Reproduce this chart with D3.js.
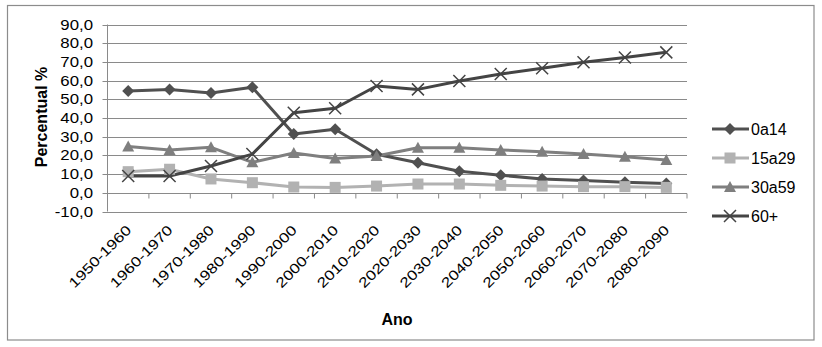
<!DOCTYPE html>
<html lang="pt">
<head>
<meta charset="UTF-8">
<title>Percentual por faixa etária</title>
<script src="https://d3js.org/d3.v7.min.js"></script>
<style>
  body { margin: 0; background: #fff; }
  text { font-family: "Liberation Sans", Arial, sans-serif; fill: #000; }
</style>
</head>
<body>
<svg width="822" height="347"></svg>
<script>
// data
const categories = ["1950-1960", "1960-1970", "1970-1980", "1980-1990", "1990-2000", "2000-2010", "2010-2020",
  "2020-2030", "2030-2040", "2040-2050", "2050-2060", "2060-2070", "2070-2080", "2080-2090"];
const seriesNames = ["0a14", "15a29", "30a59", "60+"];
const v0a14  = [54.4, 55.3, 53.4, 56.4, 31.4, 34.0, 20.6, 16.1, 11.5, 9.4, 7.4, 6.6, 5.7, 5.0];
const v15a29 = [11.3, 12.6, 7.4, 5.4, 3.1, 2.9, 3.6, 4.7, 4.7, 4.0, 3.6, 3.3, 3.3, 2.9];
const v30a59 = [24.7, 22.9, 24.3, 16.3, 21.3, 18.4, 19.7, 24.1, 24.1, 22.9, 22.0, 20.7, 19.3, 17.5];
const v60    = [9.0, 9.0, 14.3, 20.7, 42.8, 45.2, 57.1, 55.3, 59.8, 63.5, 66.6, 69.8, 72.4, 75.1];
const yTicks = [-10, 0, 10, 20, 30, 40, 50, 60, 70, 80, 90];

const series = [
  { name: seriesNames[0], values: v0a14,  color: "#505050", marker: "diamond" },
  { name: seriesNames[1], values: v15a29, color: "#b2b2b2", marker: "square" },
  { name: seriesNames[2], values: v30a59, color: "#7f7f7f", marker: "triangle" },
  { name: seriesNames[3], values: v60,    color: "#444444", marker: "cross" }
];

const svg = d3.select("svg");
const plotLeft = 107.5, plotRight = 687, plotTop = 24.5, plotBottom = 211.5;

// outer frame
svg.append("rect")
  .attr("x", 7.5).attr("y", 5.5).attr("width", 806.5).attr("height", 334.5)
  .attr("fill", "none").attr("stroke", "#8c8c8c").attr("stroke-width", 1.2);

const x = d3.scaleBand().domain(categories).range([plotLeft, plotRight]);
const y = d3.scaleLinear().domain([-10, 90]).range([plotBottom, plotTop]);

// gridlines
svg.append("g").selectAll("line").data(yTicks).join("line")
  .attr("x1", plotLeft - 5).attr("x2", plotRight)
  .attr("y1", d => Math.round(y(d)) + 0.5).attr("y2", d => Math.round(y(d)) + 0.5)
  .attr("stroke", "#8a8a8a").attr("stroke-width", 1);

// y axis line
svg.append("line")
  .attr("x1", plotLeft).attr("x2", plotLeft).attr("y1", y(90)).attr("y2", y(-10))
  .attr("stroke", "#8a8a8a");

// y tick labels (the original glyphs are a bit wider than Arial)
svg.append("g").selectAll("text").data(yTicks).join("text")
  .attr("transform", d => `translate(93,${y(d)}) scale(1.2,1)`)
  .attr("dy", "0.36em")
  .attr("text-anchor", "end")
  .style("font-size", "14px")
  .text(d => d3.format(".1f")(d).replace(".", ",").replace("−", "-"));

// category ticks on the zero line
const y0 = Math.round(y(0)) + 0.5;
svg.append("g").selectAll("line").data(categories).join("line")
  .attr("x1", d => x(d) + x.bandwidth())
  .attr("x2", d => x(d) + x.bandwidth())
  .attr("y1", y0).attr("y2", y0 + 5)
  .attr("stroke", "#8a8a8a");

// x tick labels
svg.append("g").selectAll("text").data(categories).join("text")
  .attr("transform", d => `translate(${x(d) + x.bandwidth() / 2 + 4},${231}) rotate(-45) scale(1.22,1)`)
  .attr("text-anchor", "end")
  .style("font-size", "14px")
  .text(d => d);

// axis titles
svg.append("text")
  .attr("transform", `translate(47,117) rotate(-90)`)
  .attr("text-anchor", "middle")
  .style("font-size", "16px").style("font-weight", "bold")
  .text("Percentual %");

svg.append("text")
  .attr("x", 397).attr("y", 325)
  .attr("text-anchor", "middle")
  .style("font-size", "16px").style("font-weight", "bold")
  .text("Ano");

function drawMarker(g, type, color) {
  if (type === "diamond") {
    g.append("path").attr("d", "M0,-6L6,0L0,6L-6,0Z").attr("fill", color);
  } else if (type === "square") {
    g.append("rect").attr("x", -5.5).attr("y", -5.5).attr("width", 11).attr("height", 11).attr("fill", color);
  } else if (type === "triangle") {
    g.append("path").attr("d", "M0,-6L6,5L-6,5Z").attr("fill", color);
  } else {
    g.append("path").attr("d", "M-6,-6L6,6M-6,6L6,-6")
      .attr("stroke", color).attr("stroke-width", 1.5).attr("fill", "none");
  }
}

const line = d3.line()
  .x((d, i) => x(categories[i]) + x.bandwidth() / 2)
  .y(d => y(d));

series.forEach(s => {
  svg.append("path")
    .datum(s.values)
    .attr("d", line)
    .attr("fill", "none")
    .attr("stroke", s.color)
    .attr("stroke-width", 3)
    .attr("stroke-linejoin", "round");
});

series.forEach(s => {
  s.values.forEach((v, i) => {
    const g = svg.append("g")
      .attr("transform", `translate(${x(categories[i]) + x.bandwidth() / 2},${y(v)})`);
    drawMarker(g, s.marker, s.color);
  });
});

// legend
const legend = svg.append("g");
series.forEach((s, i) => {
  const ly = 129 + i * 29;
  legend.append("line")
    .attr("x1", 712).attr("x2", 749).attr("y1", ly).attr("y2", ly)
    .attr("stroke", s.color).attr("stroke-width", 3);
  const g = legend.append("g").attr("transform", `translate(730,${ly})`);
  drawMarker(g, s.marker, s.color);
  legend.append("text")
    .attr("x", 751).attr("y", ly).attr("dy", "0.36em")
    .style("font-size", "16px")
    .text(s.name);
});
</script>
</body>
</html>
